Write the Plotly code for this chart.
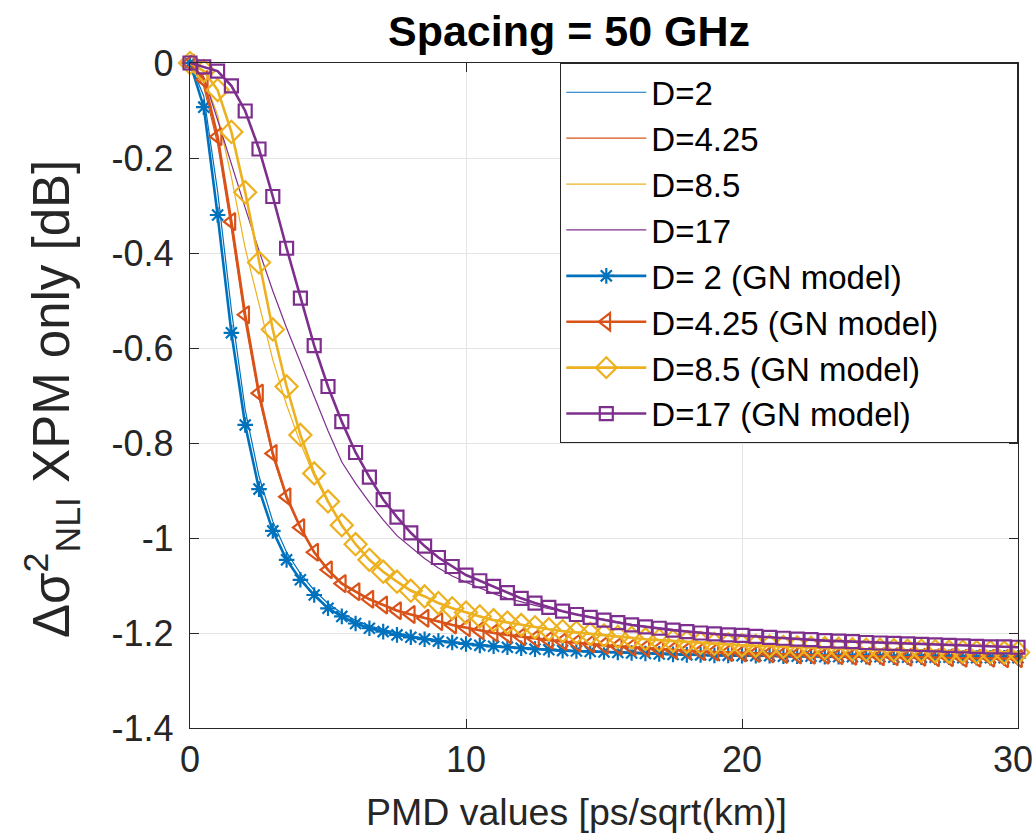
import plotly.graph_objects as go

# ---------------- data ----------------
pmd = [0, 0.5, 1, 1.5, 2, 2.5, 3, 3.5, 4, 4.5, 5, 5.5, 6, 6.5, 7, 7.5, 8, 8.5, 9, 9.5,
       10, 10.5, 11, 11.5, 12, 12.5, 13, 13.5, 14, 14.5, 15, 15.5, 16, 16.5, 17, 17.5,
       18, 18.5, 19, 19.5, 20, 20.5, 21, 21.5, 22, 22.5, 23, 23.5, 24, 24.5, 25, 25.5,
       26, 26.5, 27, 27.5, 28, 28.5, 29, 29.5, 30]

sim_d2 = [0, -0.07, -0.27, -0.52, -0.73, -0.87, -0.965, -1.03, -1.075, -1.11, -1.138,
          -1.158, -1.173, -1.185, -1.193, -1.2, -1.206, -1.211, -1.215, -1.219, -1.222,
          -1.225, -1.227, -1.229, -1.231, -1.233, -1.234, -1.236, -1.237, -1.238, -1.239,
          -1.24, -1.241, -1.242, -1.243, -1.244, -1.245, -1.245, -1.246, -1.246, -1.247,
          -1.247, -1.248, -1.248, -1.248, -1.249, -1.249, -1.249, -1.249, -1.25, -1.25,
          -1.25, -1.25, -1.25, -1.251, -1.251, -1.251, -1.251, -1.251, -1.252, -1.252]
sim_d425 = [0, -0.05, -0.17, -0.35, -0.545, -0.705, -0.828, -0.917, -0.98, -1.03, -1.066,
            -1.094, -1.112, -1.128, -1.14, -1.151, -1.16, -1.168, -1.175, -1.182, -1.188,
            -1.194, -1.199, -1.203, -1.207, -1.211, -1.214, -1.217, -1.22, -1.222, -1.225,
            -1.227, -1.229, -1.231, -1.233, -1.235, -1.236, -1.238, -1.239, -1.24, -1.241,
            -1.242, -1.243, -1.244, -1.245, -1.246, -1.246, -1.247, -1.248, -1.248, -1.249,
            -1.249, -1.25, -1.25, -1.251, -1.251, -1.252, -1.252, -1.252, -1.253, -1.253]
sim_d85 = [0, -0.03, -0.11, -0.24, -0.39, -0.51, -0.625, -0.72, -0.8, -0.87, -0.925,
           -0.975, -1.013, -1.045, -1.07, -1.091, -1.109, -1.122, -1.136, -1.147, -1.156,
           -1.164, -1.172, -1.177, -1.182, -1.187, -1.191, -1.195, -1.198, -1.201, -1.204,
           -1.207, -1.209, -1.212, -1.214, -1.216, -1.218, -1.22, -1.222, -1.223, -1.225,
           -1.226, -1.227, -1.228, -1.229, -1.23, -1.231, -1.232, -1.233, -1.234, -1.234,
           -1.235, -1.236, -1.236, -1.237, -1.238, -1.238, -1.239, -1.239, -1.24, -1.24]
sim_d17 = [0, -0.03, -0.12, -0.215, -0.305, -0.395, -0.48, -0.558, -0.63, -0.703, -0.774,
           -0.84, -0.885, -0.925, -0.962, -0.995, -1.02, -1.043, -1.063, -1.08, -1.093,
           -1.105, -1.117, -1.127, -1.135, -1.142, -1.149, -1.155, -1.161, -1.166, -1.171,
           -1.177, -1.182, -1.186, -1.19, -1.193, -1.196, -1.199, -1.201, -1.203, -1.205,
           -1.207, -1.209, -1.211, -1.212, -1.214, -1.215, -1.217, -1.218, -1.219, -1.22,
           -1.221, -1.222, -1.223, -1.224, -1.225, -1.226, -1.227, -1.228, -1.229, -1.23]

gn_d2 = [0, -0.093, -0.32, -0.568, -0.762, -0.897, -0.985, -1.046, -1.088, -1.12, -1.148,
         -1.165, -1.18, -1.19, -1.197, -1.204, -1.209, -1.213, -1.217, -1.22, -1.223,
         -1.226, -1.228, -1.23, -1.232, -1.234, -1.235, -1.237, -1.238, -1.239, -1.24,
         -1.241, -1.242, -1.243, -1.244, -1.245, -1.246, -1.246, -1.247, -1.247, -1.248,
         -1.248, -1.248, -1.249, -1.249, -1.249, -1.25, -1.25, -1.25, -1.25, -1.25,
         -1.251, -1.251, -1.251, -1.251, -1.251, -1.252, -1.252, -1.252, -1.252, -1.252]
gn_d425 = [0, -0.035, -0.155, -0.334, -0.53, -0.695, -0.822, -0.913, -0.978, -1.03, -1.067,
           -1.096, -1.113, -1.129, -1.141, -1.153, -1.161, -1.169, -1.176, -1.183, -1.189,
           -1.195, -1.2, -1.204, -1.208, -1.212, -1.215, -1.218, -1.221, -1.223, -1.226,
           -1.228, -1.23, -1.232, -1.234, -1.236, -1.237, -1.239, -1.24, -1.241, -1.242,
           -1.243, -1.244, -1.245, -1.246, -1.247, -1.247, -1.248, -1.249, -1.249, -1.25,
           -1.25, -1.251, -1.251, -1.252, -1.252, -1.253, -1.253, -1.253, -1.254, -1.254]
gn_d85 = [0, -0.017, -0.057, -0.145, -0.272, -0.42, -0.561, -0.681, -0.783, -0.864, -0.923,
          -0.973, -1.013, -1.046, -1.071, -1.092, -1.111, -1.123, -1.137, -1.148, -1.157,
          -1.165, -1.173, -1.178, -1.183, -1.188, -1.192, -1.196, -1.199, -1.202, -1.205,
          -1.208, -1.21, -1.213, -1.215, -1.217, -1.219, -1.221, -1.223, -1.224, -1.226,
          -1.227, -1.228, -1.229, -1.23, -1.231, -1.232, -1.233, -1.234, -1.235, -1.235,
          -1.236, -1.237, -1.237, -1.238, -1.239, -1.239, -1.24, -1.24, -1.241, -1.241]
gn_d17 = [0, -0.008, -0.017, -0.048, -0.101, -0.181, -0.281, -0.39, -0.495, -0.595, -0.681,
          -0.755, -0.82, -0.872, -0.919, -0.956, -0.989, -1.017, -1.041, -1.06, -1.078,
          -1.09, -1.102, -1.115, -1.127, -1.137, -1.146, -1.154, -1.161, -1.167, -1.173,
          -1.178, -1.183, -1.187, -1.19, -1.194, -1.197, -1.2, -1.202, -1.204, -1.205,
          -1.207, -1.209, -1.211, -1.213, -1.214, -1.216, -1.217, -1.218, -1.22, -1.221,
          -1.222, -1.223, -1.224, -1.225, -1.226, -1.227, -1.228, -1.229, -1.229, -1.23]

sim_names = ["D=2", "D=4.25", "D=8.5", "D=17"]
gn_names = ["D= 2 (GN model)", "D=4.25 (GN model)", "D=8.5 (GN model)", "D=17 (GN model)"]
colors = ["#0072BD", "#D95319", "#EDB120", "#7E2F8E"]
symbols = ["asterisk-open", "triangle-left-open", "diamond-open", "square-open"]
sizes = [13, 15, 17, 13]

y_ticks = [0, -0.2, -0.4, -0.6, -0.8, -1, -1.2, -1.4]
y_labels = ["0", "-0.2", "-0.4", "-0.6", "-0.8", "-1", "-1.2", "-1.4"]
x_ticks = [0, 10, 20, 30]
x_labels = ["0", "10", "20", "30"]

FONT = "Liberation Sans, Arial, Helvetica, sans-serif"
TXT = "#262626"
NBSP = "\u00a0"
TICK_SIZE = 36

fig = go.Figure()
for name, ys, c in zip(sim_names, [sim_d2, sim_d425, sim_d85, sim_d17], colors):
    fig.add_trace(go.Scatter(x=pmd, y=ys, mode="lines", name=name,
                             line=dict(color=c, width=1.2), cliponaxis=False))
for name, ys, c, s, sz in zip(gn_names, [gn_d2, gn_d425, gn_d85, gn_d17], colors, symbols, sizes):
    label = name + NBSP * 8 if name == "D=4.25 (GN model)" else name
    fig.add_trace(go.Scatter(x=pmd, y=ys, mode="lines+markers", name=label,
                             line=dict(color=c, width=2.6),
                             marker=dict(symbol=s, size=sz, color=c, line=dict(color=c, width=2.2)),
                             cliponaxis=False))

axis_common = dict(showline=True, linecolor=TXT, linewidth=1.3, mirror="ticks",
                   ticks="inside", ticklen=9, tickwidth=1.3, tickcolor=TXT,
                   showgrid=True, gridcolor="#e4e4e4", gridwidth=1.2, zeroline=False,
                   automargin=False, ticklabeloverflow="allow",
                   tickfont=dict(family=FONT, size=TICK_SIZE, color=TXT))

# the last x label sits at the page edge: draw it as an annotation nudged inside the page
x_text = x_labels[:-1] + [""]
fig.update_xaxes(range=[0, 30], tickvals=x_ticks, ticktext=x_text, **axis_common)
fig.update_yaxes(range=[-1.4, 0], tickvals=y_ticks, ticktext=y_labels,
                 ticklabelstandoff=8, **axis_common)

fig.update_layout(
    width=1036, height=836,
    margin=dict(l=190, r=18, t=63, b=108, autoexpand=False),
    paper_bgcolor="white", plot_bgcolor="white",
    font=dict(family=FONT, color=TXT),
    showlegend=True,
    legend=dict(x=1, y=1, xanchor="right", yanchor="top", bgcolor="white",
                bordercolor=TXT, borderwidth=1.3, itemwidth=80,
                font=dict(family=FONT, size=33, color="#000000"),
                tracegroupgap=0),
    annotations=[
        dict(text="<b>Spacing = 50 GHz</b>", xref="paper", yref="paper",
             x=(569 - 190) / 828, y=1 + (63 - 31) / 665, xanchor="center", yanchor="middle",
             showarrow=False, font=dict(family=FONT, size=43, color="#000000")),
        dict(text="PMD values [ps/sqrt(km)]", xref="paper", yref="paper",
             x=(576 - 190) / 828, y=-(812 - 728) / 665, xanchor="center", yanchor="middle",
             showarrow=False, font=dict(family=FONT, size=37.5, color=TXT)),
        dict(text="Δσ<sup>2</sup><sub>NLI</sub> XPM only [dB]", xref="paper", yref="paper",
             x=-(190 - 52) / 828, y=(728 - 399) / 665, xanchor="center", yanchor="middle",
             textangle=-90, showarrow=False, font=dict(family=FONT, size=51, color=TXT)),
        dict(text=x_labels[-1], xref="x", yref="paper",
             x=x_ticks[-1], y=-(759 - 728) / 665, xanchor="center", yanchor="middle",
             xshift=-5, showarrow=False, font=dict(family=FONT, size=TICK_SIZE, color=TXT)),
    ],
)

# remove the browser's default body margin and any overflow so the figure sits at (0, 0)
fig.write_html("out.html",
               config={"displayModeBar": False},
               post_script="document.body.style.margin='0';"
                           "document.body.style.overflow='hidden';"
                           "document.documentElement.style.overflow='hidden';")
